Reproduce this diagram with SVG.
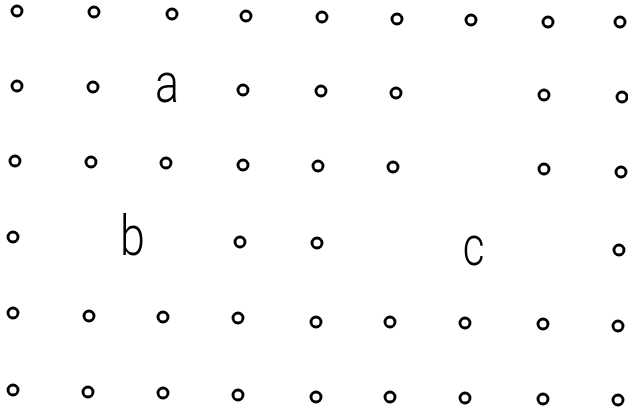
<svg xmlns="http://www.w3.org/2000/svg" width="628" height="416" viewBox="0 0 628 416">
<style>
.d{fill:none;stroke:#000;stroke-width:2.9}
.t{font-family:Roboto,"Liberation Sans",Arial,sans-serif;font-size:56px;font-weight:300;fill:#000;text-anchor:middle}
</style>
<rect width="628" height="416" fill="#fff"/>
<g id="row1">
<circle class="d" cx="17" cy="11" r="5"/><circle class="d" cx="94" cy="12" r="5"/><circle class="d" cx="172" cy="14" r="5"/><circle class="d" cx="246" cy="16" r="5"/><circle class="d" cx="322" cy="17" r="5"/><circle class="d" cx="397" cy="19" r="5"/><circle class="d" cx="471" cy="20" r="5"/><circle class="d" cx="548" cy="22" r="5"/><circle class="d" cx="620" cy="22" r="5"/>
</g>
<g id="row2">
<circle class="d" cx="17" cy="86" r="5"/><circle class="d" cx="93" cy="87" r="5"/><circle class="d" cx="243" cy="90" r="5"/><circle class="d" cx="321" cy="91" r="5"/><circle class="d" cx="396" cy="93" r="5"/><circle class="d" cx="544" cy="95" r="5"/><circle class="d" cx="622" cy="97" r="5"/>
</g>
<g id="row3">
<circle class="d" cx="15" cy="161" r="5"/><circle class="d" cx="91" cy="162" r="5"/><circle class="d" cx="166" cy="163" r="5"/><circle class="d" cx="243" cy="165" r="5"/><circle class="d" cx="318" cy="166" r="5"/><circle class="d" cx="393" cy="167" r="5"/><circle class="d" cx="544" cy="169" r="5"/><circle class="d" cx="621" cy="172" r="5"/>
</g>
<g id="row4">
<circle class="d" cx="13" cy="237" r="5"/><circle class="d" cx="240" cy="242" r="5"/><circle class="d" cx="317" cy="243" r="5"/><circle class="d" cx="619" cy="250" r="5"/>
</g>
<g id="row5">
<circle class="d" cx="13" cy="313" r="5"/><circle class="d" cx="89" cy="316" r="5"/><circle class="d" cx="163" cy="317" r="5"/><circle class="d" cx="238" cy="318" r="5"/><circle class="d" cx="316" cy="322" r="5"/><circle class="d" cx="390" cy="322" r="5"/><circle class="d" cx="465" cy="323" r="5"/><circle class="d" cx="543" cy="324" r="5"/><circle class="d" cx="618" cy="326" r="5"/>
</g>
<g id="row6">
<circle class="d" cx="13" cy="390" r="5"/><circle class="d" cx="88" cy="392" r="5"/><circle class="d" cx="163" cy="393" r="5"/><circle class="d" cx="238" cy="395" r="5"/><circle class="d" cx="316" cy="397" r="5"/><circle class="d" cx="390" cy="397" r="5"/><circle class="d" cx="465" cy="398" r="5"/><circle class="d" cx="543" cy="399" r="5"/><circle class="d" cx="618" cy="400" r="5"/>
</g>
<g id="labels">
<text class="t" transform="translate(167,102) scale(0.8,1)">a</text>
<text class="t" transform="translate(132.5,255) scale(0.8,1)">b</text>
<text class="t" transform="translate(473.5,265) scale(0.75,1)">c</text>
</g>
</svg>
